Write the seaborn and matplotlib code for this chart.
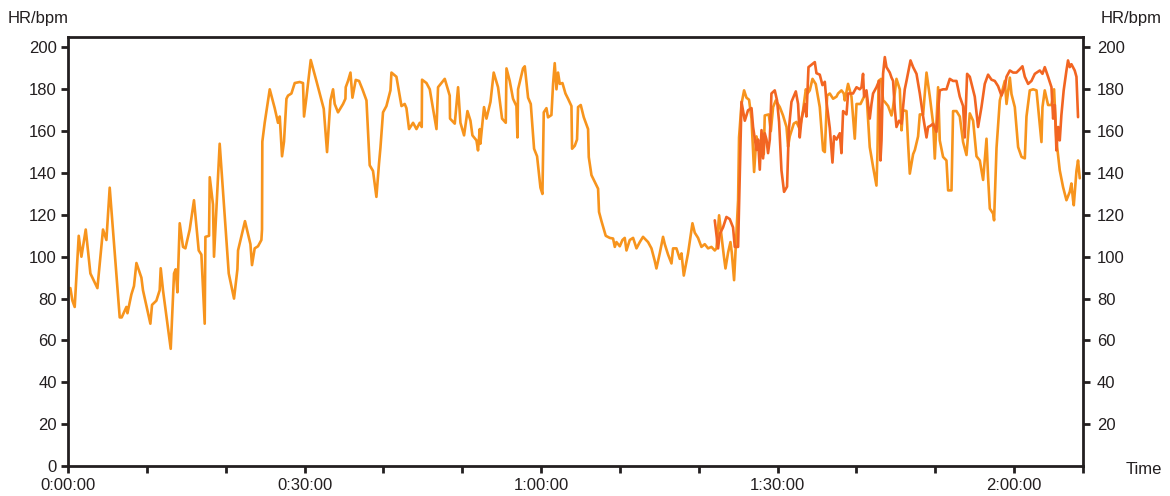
import matplotlib
matplotlib.use("Agg")
import matplotlib.pyplot as plt
import seaborn as sns
import pandas as pd

# -----------------------------
# Data: elapsed time (minutes) and heart rate (bpm)
# -----------------------------
hr1_min = [
    0.0, 0.3, 0.56, 0.85, 1.36, 1.7, 2.25, 2.84, 3.73, 4.44, 4.87, 5.29, 6.56, 6.81, 7.41, 7.54,
    8.04, 8.37, 8.68, 9.31, 9.51, 10.45, 10.66, 11.21, 11.63, 11.76, 12.05, 13.03, 13.45, 13.66,
    13.88, 14.17, 14.59, 14.89, 15.44, 15.98, 16.58, 16.92, 17.34, 17.43, 17.89, 17.98, 18.39,
    18.52, 19.24, 20.39, 21.06, 21.49, 21.57, 22.45, 23.14, 23.34, 23.68, 24.1, 24.53, 24.61,
    24.65, 24.95, 25.59, 26.22, 26.64, 26.86, 27.15, 27.4, 27.71, 27.91, 28.34, 28.76, 29.39,
    29.81, 29.94, 30.24, 30.79, 31.51, 32.44, 32.86, 33.29, 33.62, 33.83, 34.25, 34.89, 35.19,
    35.23, 35.52, 35.83, 36.08, 36.5, 36.92, 37.35, 37.86, 38.27, 38.69, 39.12, 39.45, 39.63,
    39.96, 40.39, 40.9, 41.03, 41.66, 42.3, 42.71, 42.93, 43.26, 43.77, 44.2, 44.62, 44.87,
    44.91, 45.47, 45.89, 46.74, 46.94, 47.79, 48.42, 48.46, 49.06, 49.48, 49.78, 50.24, 50.67,
    51.05, 51.3, 51.81, 52.01, 52.23, 52.31, 52.77, 53.08, 53.59, 54.0, 54.55, 55.06, 55.53,
    55.62, 56.03, 56.45, 56.88, 57.01, 57.09, 57.72, 57.94, 58.36, 58.7, 59.12, 59.5, 59.93,
    60.18, 60.35, 60.69, 60.89, 61.32, 61.53, 61.74, 61.96, 62.16, 62.38, 62.72, 63.1, 63.43,
    63.86, 63.94, 64.28, 64.57, 64.7, 65.04, 65.42, 65.97, 66.06, 66.4, 67.24, 67.36, 67.67,
    68.21, 68.72, 69.14, 69.36, 69.57, 69.99, 70.33, 70.62, 70.84, 71.26, 71.68, 72.11, 72.53,
    72.94, 73.58, 74.01, 74.43, 74.64, 75.06, 75.48, 75.7, 76.12, 76.55, 76.75, 77.18, 77.6,
    77.82, 78.11, 78.65, 79.21, 79.5, 79.92, 80.35, 80.77, 81.19, 81.62, 82.04, 82.26, 82.59,
    82.89, 83.18, 83.4, 83.73, 84.03, 84.2, 84.49, 85.0, 85.12, 85.43, 85.76, 86.06, 86.39,
    86.7, 87.03, 87.33, 87.66, 87.97, 88.26, 88.38, 88.89, 89.15, 89.44, 89.78, 90.29, 90.7,
    91.14, 91.34, 91.55, 92.06, 92.4, 92.82, 93.24, 93.59, 93.8, 94.09, 94.44, 94.85, 95.36,
    95.78, 96.0, 96.29, 96.63, 97.05, 97.48, 97.68, 98.11, 98.41, 98.53, 98.95, 99.38, 99.8,
    100.02, 100.53, 100.85, 101.28, 101.7, 102.12, 102.55, 102.68, 102.82, 103.14, 103.39,
    103.61, 104.03, 104.46, 104.66, 105.09, 105.51, 105.73, 105.93, 106.36, 106.57, 106.78,
    107.2, 107.42, 107.83, 108.05, 108.47, 108.9, 109.32, 109.74, 109.95, 110.37, 110.58,
    111.0, 111.43, 111.64, 112.07, 112.27, 112.7, 113.12, 113.54, 113.97, 114.39, 114.81,
    115.24, 115.66, 116.08, 116.51, 116.71, 116.93, 117.35, 117.47, 117.78, 118.2, 118.62,
    118.83, 119.05, 119.47, 119.68, 120.1, 120.52, 120.95, 121.37, 121.58, 122.0, 122.42,
    122.85, 123.48, 123.61, 123.9, 124.32, 124.75, 125.08, 125.38, 125.8, 126.22, 126.65,
    127.07, 127.28, 127.49, 127.58, 127.92, 128.12, 128.34,
]
hr1_bpm = [
    85, 85, 79, 76, 110, 100, 113, 92, 85, 113, 108, 133, 71, 71, 76, 73,
    82, 86, 97, 90, 84, 68, 77, 79, 84, 94.5, 84, 56, 92, 94,
    83, 116, 104.7, 104, 113, 127, 103, 101, 68, 109.5, 110, 138, 125,
    100, 154, 92, 80, 94, 103, 117, 106, 96, 104, 105, 108, 113,
    155, 164, 180, 171, 164, 167, 148, 155, 175.5, 177, 178, 183, 183.5,
    183, 167, 176, 194, 184, 170.7, 150, 174.7, 180, 173, 169, 173, 175.5,
    181, 184, 188, 176, 184.5, 184, 180, 174.7, 143.7, 141, 128.6, 144.5, 152,
    169, 172, 179.5, 188, 186, 172, 173, 171, 161, 164, 161, 164, 162,
    184.6, 183, 180, 161, 181, 185, 177, 166, 163.6, 181, 164, 158, 169.6,
    165, 158, 155.6, 150.8, 161, 154, 171.5, 166, 174, 188, 181, 166, 164,
    190, 184, 175.5, 172, 157, 180, 190, 191, 176, 173, 151.6, 148, 133,
    130, 169, 171, 166.6, 167.7, 182.6, 192.5, 180, 188, 182.6, 183, 178, 175.5,
    172, 151.6, 153, 156, 171.5, 172.5, 166.7, 161, 147.6, 139, 132.5, 121.4, 117,
    110, 109, 108.7, 104.7, 107, 105, 108, 109, 103, 108, 109, 104, 107,
    109.5, 107, 104, 98, 94.4, 101.6, 109.5, 106, 101, 96.8, 104, 104, 99,
    101.6, 91, 101.6, 116, 111.5, 109, 104.7, 106, 104, 104.7, 103, 104, 119.8,
    110, 100.7, 94.4, 102, 107, 102, 88.8, 127, 157, 173, 179.5, 176, 175,
    166, 140.5, 157.5, 151, 156, 149, 167.5, 168, 160, 171.5, 174.7, 171.5, 167.5,
    162, 152.6, 157.5, 163.6, 164.4, 161, 170, 180, 178, 179.5, 185, 182.5, 171.5,
    150.8, 150, 177, 178, 175.5, 176.5, 178, 179.5, 178, 174.7, 182.6, 176.5, 156.4,
    173, 173, 175.5, 178.5, 152.4, 143, 134, 150, 184, 185, 174.7,
    174, 172, 167.5, 171.5, 185, 180, 160.4, 170, 169.6, 153.6, 139.7,
    149, 151, 157.5, 168, 168, 188, 176.5, 163.6, 146.9, 181, 155.6,
    147.7, 146, 131.7, 131.7, 169.6, 169.6, 167, 154.8, 148.6, 168.5, 165,
    148, 146, 136.7, 156.4, 138, 123, 120.6, 117.4, 152, 174.7, 181,
    184, 173, 185.6, 177.7, 171.5, 152.4, 147.7, 147, 167, 179.5, 180,
    179.5, 154.8, 171.5, 179.5, 172.5, 172.5, 180, 155.6, 141.3, 133.3, 127,
    131, 135, 127, 124.6, 141, 146, 137.5,
]

hr2_min = [
    82.04, 82.46, 82.68, 83.09, 83.52, 83.94, 84.36, 84.58, 85.0, 85.43, 85.85, 86.26, 86.7,
    86.9, 87.33, 87.53, 87.75, 87.97, 88.17, 88.38, 88.6, 88.8, 89.02, 89.23, 89.65, 89.94,
    90.2, 90.5, 90.83, 91.21, 91.43, 91.77, 92.32, 92.61, 92.82, 93.04, 93.46, 93.67, 93.93,
    94.73, 94.94, 95.36, 95.7, 96.0, 96.21, 96.63, 96.97, 97.17, 97.48, 97.9, 98.11, 98.32,
    98.75, 98.95, 99.58, 100.02, 100.43, 100.65, 100.85, 100.98, 101.28, 101.7, 101.92,
    102.12, 102.55, 102.88, 103.06, 103.19, 103.39, 103.61, 103.82, 104.24, 104.46, 104.66,
    104.87, 105.09, 105.42, 105.73, 106.14, 106.36, 106.87, 107.2, 107.63, 108.05, 108.47,
    108.9, 109.1, 109.41, 109.74, 110.16, 110.58, 111.0, 111.43, 111.85, 112.27, 112.7,
    113.12, 113.54, 113.75, 114.05, 114.39, 115.02, 115.44, 115.87, 116.29, 116.71, 117.14,
    117.56, 117.98, 118.41, 118.83, 119.05, 119.47, 119.89, 120.31, 120.73, 121.07, 121.37,
    121.79, 122.21, 122.64, 123.27, 123.61, 123.9, 124.32, 124.75, 124.96, 125.17, 125.38,
    125.59, 125.8, 126.01, 126.3, 126.65, 126.85, 127.07, 127.28, 127.7, 127.92, 128.12,
]
hr2_bpm = [
    117.4, 104, 111, 114, 119, 118, 114, 104.7, 104.7, 174, 165, 170, 171,
    162, 151, 156, 141.6, 160.5, 147, 159, 156, 149.5, 156, 178, 179.5, 174.7,
    164.4, 141.3, 131, 133.5, 160.5, 174, 179, 173, 157, 165.5, 173, 167, 190.6,
    193, 187.7, 187, 182, 183.6, 174, 161.5, 145, 157.6, 156, 159, 149.5, 169.6,
    168, 178, 178, 181, 180, 181, 187.4, 176.5, 179.5, 166, 173,
    178, 181, 184, 146, 155.5, 187.4, 195.4, 190.6, 188, 185.6, 184,
    171, 162, 165, 163.6, 180, 184, 193.8, 190.6, 187.4, 178, 167,
    157, 162, 162.6, 163.6, 159.7, 179.5, 180, 180, 185, 184, 184,
    176.5, 172, 157, 187.4, 186, 176.5, 162, 171.5, 182.6, 187, 184.6,
    184, 181.5, 177, 181, 186, 189, 188, 188, 189.6, 191, 186,
    182.6, 184, 187.4, 189, 187.4, 190.6, 186, 181, 166, 172.5, 150.8,
    162, 155.6, 167.7, 179.5, 189, 193.8, 190.6, 192, 189, 186, 166.7,
]

x_ticks = [0, 10, 20, 30, 40, 50, 60, 70, 80, 90, 100, 110, 120, 128.75]
x_labels = ["0:00:00", "", "", "0:30:00", "", "", "1:00:00", "", "",
            "1:30:00", "", "", "2:00:00", ""]
y_ticks_left = [0, 20, 40, 60, 80, 100, 120, 140, 160, 180, 200]
y_ticks_right = [20, 40, 60, 80, 100, 120, 140, 160, 180, 200]

df1 = pd.DataFrame({"t": hr1_min, "hr": hr1_bpm})
df2 = pd.DataFrame({"t": hr2_min, "hr": hr2_bpm})

# -----------------------------
# Style
# -----------------------------
sns.set_style("white")
plt.rcParams["font.family"] = ["Liberation Sans", "DejaVu Sans"]
ink = "#231f20"
fs = 12

fig = plt.figure(figsize=(11.7, 4.96), dpi=100)
ax = fig.add_axes([68 / 1170, 30 / 496, 1015 / 1170, 429 / 496])

sns.lineplot(data=df1, x="t", y="hr", ax=ax, color="#f7941d", linewidth=1.9,
             estimator=None, sort=False)
sns.lineplot(data=df2, x="t", y="hr", ax=ax, color="#f26522", linewidth=1.9,
             estimator=None, sort=False)

ax.set_xlim(0, 128.75)
ax.set_ylim(0, 205)
ax.set_xticks(x_ticks)
ax.set_xticklabels(x_labels)
ax.set_yticks(y_ticks_left)
ax.set_xlabel("")
ax.set_ylabel("")

for sp in ax.spines.values():
    sp.set_color(ink)
    sp.set_linewidth(2.0)
ax.tick_params(axis="both", direction="out", length=5, width=2.0, color=ink,
               labelsize=fs, labelcolor=ink)
ax.tick_params(axis="y", left=True, pad=3)
ax.tick_params(axis="x", bottom=True, pad=4)

ax2 = ax.twinx()
ax2.set_ylim(0, 205)
ax2.set_yticks(y_ticks_right)
for sp in ax2.spines.values():
    sp.set_visible(False)
ax2.tick_params(axis="y", direction="out", length=5, width=2.0, color=ink,
                labelsize=fs, labelcolor=ink, right=True, pad=5)

fig.text(8 / 1170, 1 - 18 / 496, "HR/bpm", ha="left", va="center", fontsize=fs, color=ink)
fig.text(1162 / 1170, 1 - 18 / 496, "HR/bpm", ha="right", va="center", fontsize=fs, color=ink)
fig.text(1162 / 1170, 1 - 470 / 496, "Time", ha="right", va="center", fontsize=fs, color=ink)

fig.savefig("out.png", dpi=100)
